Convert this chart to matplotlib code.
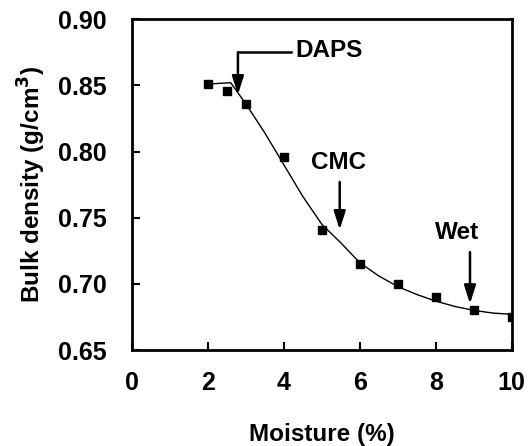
import matplotlib
matplotlib.use("Agg")
import matplotlib.pyplot as plt

# Data
moisture = [2, 2.5, 3, 4, 5, 6, 7, 8, 9, 10]
density = [0.851, 0.846, 0.836, 0.796, 0.741, 0.715, 0.700, 0.690, 0.680, 0.675]

fit_x = [2, 2.6, 3, 3.5, 4, 4.5, 5, 5.5, 6, 6.5, 7, 7.5, 8, 8.5, 9, 9.5, 10]
fit_y = [0.851, 0.852, 0.836, 0.814, 0.790, 0.766, 0.745, 0.731, 0.716, 0.706,
         0.698, 0.692, 0.687, 0.683, 0.680, 0.678, 0.677]

xticks = [0, 2, 4, 6, 8, 10]
yticks = [0.65, 0.70, 0.75, 0.80, 0.85, 0.90]
ytick_labels = ["0.65", "0.70", "0.75", "0.80", "0.85", "0.90"]

plt.rcParams['font.family'] = ['Liberation Sans', 'DejaVu Sans']
plt.rcParams['font.weight'] = 'bold'

fig = plt.figure(figsize=(5.32, 4.46), dpi=100)
ax = fig.add_axes([0.248, 0.215, 0.714, 0.742])

ax.plot(fit_x, fit_y, color='black', lw=1.0)
ax.plot(moisture, density, linestyle='none', marker='s', color='black', markersize=6)

ax.set_xlim(0, 10)
ax.set_ylim(0.65, 0.90)
ax.set_xticks(xticks)
ax.set_xticklabels([str(t) for t in xticks])
ax.set_yticks(yticks)
ax.set_yticklabels(ytick_labels)
ax.tick_params(direction='in', length=6, width=1.5, labelsize=18)
ax.tick_params(axis='x', pad=15)
ax.tick_params(axis='y', pad=18)
for lab in ax.get_xticklabels() + ax.get_yticklabels():
    lab.set_fontweight('bold')
for s in ax.spines.values():
    s.set_linewidth(2)

ax.set_xlabel('Moisture (%)', fontsize=17.5, fontweight='bold', labelpad=20)
ax.set_ylabel('Bulk density (g/cm$^\\mathbf{3}$)', fontsize=17.5, fontweight='bold', labelpad=7)

arrow = dict(arrowstyle='-|>,head_width=0.35,head_length=1.1', color='black', lw=1.8, shrinkA=0, shrinkB=0)
# DAPS: elbow arrow
ax.plot([2.79, 4.2], [0.875, 0.875], color='black', lw=1.8)
ax.annotate('', xy=(2.79, 0.843), xytext=(2.79, 0.875), arrowprops=arrow)
ax.text(4.3, 0.876, 'DAPS', fontsize=17.5, fontweight='bold', ha='left', va='center')
# CMC
ax.annotate('', xy=(5.47, 0.741), xytext=(5.47, 0.777), arrowprops=arrow)
ax.text(5.45, 0.792, 'CMC', fontsize=17.5, fontweight='bold', ha='center', va='center')
# Wet
ax.annotate('', xy=(8.9, 0.685), xytext=(8.9, 0.724), arrowprops=arrow)
ax.text(8.55, 0.739, 'Wet', fontsize=17.5, fontweight='bold', ha='center', va='center')

fig.savefig('out.png', dpi=100)
